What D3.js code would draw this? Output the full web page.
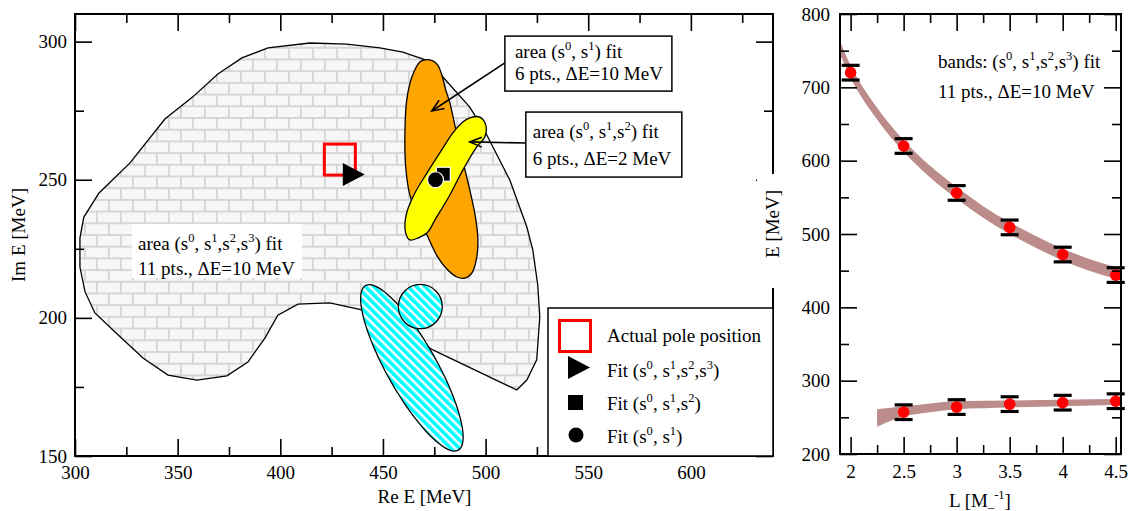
<!DOCTYPE html>
<html>
<head>
<meta charset="utf-8">
<script src="https://cdn.jsdelivr.net/npm/d3@7"></script>
<style>
  body { margin: 0; background: #fff; }
  svg { display: block; font-family: "Liberation Serif", "Times New Roman", serif; }
</style>
</head>
<body>
<div id="chart"></div>
<script>
// ---------- left panel: pole in the complex energy plane ----------
const reTicks = [300, 350, 400, 450, 500, 550, 600];
const reMinor = [325, 375, 425, 475, 525, 575, 625];
const imTicks = [150, 200, 250, 300];
const imMinor = [175, 225, 275];

// outline of the (s0,s1,s2,s3) fit area, [Re E, Im E]
const areaFit3 = [
  [302.4, 228.9], [304.3, 236.5], [311.7, 245.2], [326.8, 256.1], [343.8, 272.0],
  [357.4, 280.0], [369.6, 288.3], [381.3, 294.1], [394.0, 297.7], [414.4, 299.5],
  [432.4, 299.1], [448.5, 297.7], [459.7, 296.2], [473.8, 292.6], [479.2, 287.2],
  [492.3, 276.3], [500.6, 266.2], [511.8, 249.9], [520.1, 232.9], [523.0, 224.6],
  [525.4, 211.9], [526.4, 200.3], [524.9, 184.8], [520.1, 177.5], [515.2, 173.9],
  [474.3, 188.4], [455.8, 197.4], [439.7, 202.9], [424.1, 205.4], [408.6, 205.0],
  [398.8, 201.0], [392.5, 192.7], [384.2, 184.0], [374.0, 179.0], [359.4, 177.5],
  [345.3, 179.3], [333.1, 185.5], [319.5, 194.9], [309.7, 201.8], [304.9, 209.4],
  [302.4, 218.4]
];
// (s0,s1) fit area (orange)
const areaFit1 = [
  [470.4, 293.4], [474.3, 293.0], [476.7, 291.5], [478.7, 287.9], [480.6, 282.5],
  [482.6, 277.8], [484.5, 271.6], [486.5, 264.4], [489.4, 255.3], [492.3, 246.3],
  [494.7, 238.0], [496.2, 229.3], [495.7, 222.0], [493.3, 216.2], [489.9, 214.4],
  [486.0, 214.8], [481.6, 217.3], [476.7, 222.0], [471.9, 229.3], [467.0, 237.2],
  [463.1, 244.5], [461.1, 254.6], [460.7, 266.9], [461.6, 278.9], [464.1, 287.2],
  [468.0, 292.6]
];
// (s0,s1,s2) fit area (yellow)
const areaFit2 = [
  [492.3, 272.4], [497.2, 272.7], [500.1, 269.8], [499.6, 265.5], [495.7, 261.9],
  [488.9, 253.5], [482.6, 244.5], [475.3, 235.4], [471.9, 231.1], [467.0, 228.9],
  [463.1, 228.2], [461.1, 230.7], [461.1, 236.5], [464.6, 243.8], [471.4, 252.4],
  [477.7, 259.7], [484.0, 266.9], [488.9, 270.9]
];
// hatched regions: elongated ellipse and small disc
const hatchEllipse = { re: 464.1, im: 181.9, major: [22.6, -29.8], minor: [-10.6, -4.45] };
const hatchDisc = { re: 468.2, im: 204.1, dRe: 10.7, dIm: 8.0 };

const polePosition = [429.0, 257.3];
const fitS3 = [435.8, 251.9];
const fitS2 = [479.4, 252.0];
const fitS1 = [475.6, 250.0];

// annotation anchors [Re E, Im E]
const boxS1 = [509.4, 302.0];
const boxS2 = [519.6, 274.5];
const boxS3 = [327.8, 234.0];
const arrowS1 = [[509.4, 292.3], [473.8, 274.9]];
const arrowS2 = [[519.6, 263.3], [492.3, 263.7]];

// ---------- right panel: levels vs. box size ----------
const lTicks = [2, 2.5, 3, 3.5, 4, 4.5];
const lMinor = [2.25, 2.75, 3.25, 3.75, 4.25];
const eTicks = [200, 300, 400, 500, 600, 700, 800];
const eMinor = [250, 350, 450, 550, 650, 750];

const levelL = [2, 2.5, 3, 3.5, 4, 4.5];
const levelUpper = [720, 620, 556, 509, 472, 444];
const levelLower = [null, 257, 264, 268, 270, 272];
const levelErr = 10;

const bandUpperL = [1.9, 2.0, 2.25, 2.5, 2.75, 3.0, 3.25, 3.5, 3.75, 4.0, 4.25, 4.5, 4.55];
const bandUpperLo = [745, 713, 656, 612, 577, 548, 522, 500, 481, 464, 450, 439, 437];
const bandUpperHi = [763, 730, 672, 628, 593, 564, 538, 516, 497, 480, 466, 455, 453];
const bandLowerL = [2.25, 2.5, 2.75, 3.0, 3.5, 4.0, 4.55];
const bandLowerLo = [237, 251, 257, 261, 263.5, 265, 267];
const bandLowerHi = [261, 265, 269, 272, 273, 274, 275];

const W = 1130, H = 511;
const svg = d3.select("#chart").append("svg").attr("width", W).attr("height", H);
svg.append("rect").attr("width", W).attr("height", H).attr("fill", "#fff");

const defs = svg.append("defs");
const brick = defs.append("pattern").attr("id", "brick")
    .attr("patternUnits", "userSpaceOnUse").attr("width", 24).attr("height", 23.4);
brick.append("rect").attr("width", 24).attr("height", 23.4).attr("fill", "#f7f7f7");
brick.append("path").attr("d", "M0,0.9H24M0,12.6H24M0.9,0V12.6M12.9,12.6V23.4")
    .attr("stroke", "#d6d6d6").attr("stroke-width", 1.9);

const stripe = defs.append("pattern").attr("id", "stripe")
    .attr("patternUnits", "userSpaceOnUse").attr("width", 6).attr("height", 6)
    .attr("patternTransform", "rotate(-45)");
stripe.append("rect").attr("width", 6).attr("height", 6).attr("fill", "#fff");
stripe.append("rect").attr("width", 3.6).attr("height", 6).attr("fill", "#00ffff");

defs.append("marker").attr("id", "openArrow")
    .attr("viewBox", "-13 -7 15 14").attr("refX", 0).attr("refY", 0)
    .attr("markerWidth", 15).attr("markerHeight", 14)
    .attr("markerUnits", "userSpaceOnUse").attr("orient", "auto")
  .append("path").attr("d", "M-12,-5L0,0L-12,5")
    .attr("fill", "none").attr("stroke", "#000").attr("stroke-width", 1.6);

// text with ^superscripts
function richText(g, px, py, str, size) {
  size = size || 19;
  const t = g.append("text").attr("x", px).attr("y", py).attr("font-size", size);
  const parts = str.split(/\^(-?\d)/);
  let raised = false;
  parts.forEach((p, i) => {
    if (p === "") return;
    if (i % 2 === 1) {
      t.append("tspan").attr("font-size", size * 0.66).attr("dy", raised ? 0 : -8).text(p);
      raised = true;
    } else {
      t.append("tspan").attr("dy", raised ? 8 : 0).text(p);
      raised = false;
    }
  });
  return t;
}

function axes(g, xs, ys, xMaj, xMin, yMaj, yMin, padX, padY) {
  const [x0, x1] = xs.range(), [y0, y1] = ys.range();
  const maj = 17, mnr = 9;
  const put = (axis, tx, ty) => g.append("g").attr("transform", `translate(${tx},${ty})`).call(axis);
  const parts = [
    put(d3.axisBottom(xs).tickValues(xMaj).tickSizeInner(-maj).tickSizeOuter(0).tickPadding(padX).tickFormat(d => d), 0, y0),
    put(d3.axisBottom(xs).tickValues(xMin).tickSizeInner(-mnr).tickSizeOuter(0).tickFormat(""), 0, y0),
    put(d3.axisTop(xs).tickValues(xMaj).tickSizeInner(-maj).tickSizeOuter(0).tickFormat(""), 0, y1),
    put(d3.axisTop(xs).tickValues(xMin).tickSizeInner(-mnr).tickSizeOuter(0).tickFormat(""), 0, y1),
    put(d3.axisLeft(ys).tickValues(yMaj).tickSizeInner(-maj).tickSizeOuter(0).tickPadding(padY).tickFormat(d => d), x0, 0),
    put(d3.axisLeft(ys).tickValues(yMin).tickSizeInner(-mnr).tickSizeOuter(0).tickFormat(""), x0, 0),
    put(d3.axisRight(ys).tickValues(yMaj).tickSizeInner(-maj).tickSizeOuter(0).tickFormat(""), x1, 0),
    put(d3.axisRight(ys).tickValues(yMin).tickSizeInner(-mnr).tickSizeOuter(0).tickFormat(""), x1, 0)
  ];
  parts.forEach(a => {
    a.attr("font-size", 19).attr("font-family", null);
    a.select(".domain").remove();
    a.selectAll(".tick line").attr("stroke", "#000").attr("stroke-width", 1.6);
    a.selectAll(".tick text").attr("fill", "#000");
  });
  g.append("rect").attr("x", x0).attr("y", y1).attr("width", x1 - x0).attr("height", y0 - y1)
    .attr("fill", "none").attr("stroke", "#000").attr("stroke-width", 2);
}

// ================= left panel =================
const x = d3.scaleLinear().domain([300, 640]).range([75, 773]);
const y = d3.scaleLinear().domain([150, 310]).range([456, 14]);
const left = svg.append("g");

const polyLin = d3.line().x(d => x(d[0])).y(d => y(d[1])).curve(d3.curveLinearClosed);
const polySmooth = d3.line().x(d => x(d[0])).y(d => y(d[1])).curve(d3.curveCatmullRomClosed);

left.append("path").attr("d", polyLin(areaFit3))
    .attr("fill", "url(#brick)").attr("stroke", "#000").attr("stroke-width", 1.3);

const ellPts = d3.range(0, 73).map(i => {
  const t = i / 72 * 2 * Math.PI;
  const e = hatchEllipse;
  return [e.re + e.major[0] * Math.cos(t) + e.minor[0] * Math.sin(t),
          e.im + e.major[1] * Math.cos(t) + e.minor[1] * Math.sin(t)];
});
left.append("path").attr("d", polySmooth(ellPts))
    .attr("fill", "url(#stripe)").attr("stroke", "#000").attr("stroke-width", 1.3);
left.append("ellipse")
    .attr("cx", x(hatchDisc.re)).attr("cy", y(hatchDisc.im))
    .attr("rx", x(hatchDisc.re + hatchDisc.dRe) - x(hatchDisc.re))
    .attr("ry", y(hatchDisc.im) - y(hatchDisc.im + hatchDisc.dIm))
    .attr("fill", "url(#stripe)").attr("stroke", "#000").attr("stroke-width", 1.3);

left.append("path").attr("d", polySmooth(areaFit1))
    .attr("fill", "#ffa500").attr("stroke", "#000").attr("stroke-width", 1.3);
left.append("path").attr("d", polySmooth(areaFit2))
    .attr("fill", "#ffff00").attr("stroke", "#000").attr("stroke-width", 1.3);

// markers
const triPath = "M-11,-11.5L11,0L-11,11.5Z";
left.append("rect")
    .attr("x", x(polePosition[0]) - 15.5).attr("y", y(polePosition[1]) - 15.5)
    .attr("width", 31).attr("height", 31)
    .attr("fill", "none").attr("stroke", "#ff0000").attr("stroke-width", 3);
left.append("path").attr("d", triPath)
    .attr("transform", `translate(${x(fitS3[0])},${y(fitS3[1])})`).attr("fill", "#000");
left.append("rect")
    .attr("x", x(fitS2[0]) - 7).attr("y", y(fitS2[1]) - 7).attr("width", 14).attr("height", 14)
    .attr("fill", "#000").attr("stroke", "#fff").attr("stroke-width", 1.2);
left.append("circle")
    .attr("cx", x(fitS1[0])).attr("cy", y(fitS1[1])).attr("r", 8)
    .attr("fill", "#000").attr("stroke", "#fff").attr("stroke-width", 1.2);

// annotation: area (s0..s3)
left.append("rect").attr("x", x(boxS3[0])).attr("y", y(boxS3[1])).attr("width", 170).attr("height", 54).attr("fill", "#fff");
richText(left, x(boxS3[0]) + 6, y(boxS3[1]) + 26, "area (s^0, s^1,s^2,s^3) fit");
richText(left, x(boxS3[0]) + 6, y(boxS3[1]) + 51, "11 pts., \u0394E=10 MeV");

// arrows + boxes
[arrowS1, arrowS2].forEach(a => {
  left.append("line")
      .attr("x1", x(a[0][0])).attr("y1", y(a[0][1]))
      .attr("x2", x(a[1][0])).attr("y2", y(a[1][1]))
      .attr("stroke", "#000").attr("stroke-width", 1.6)
      .attr("marker-end", "url(#openArrow)");
});
left.append("rect").attr("x", x(boxS1[0])).attr("y", y(boxS1[1])).attr("width", 167).attr("height", 55)
    .attr("fill", "#fff").attr("stroke", "#000").attr("stroke-width", 1.5);
richText(left, x(boxS1[0]) + 10, y(boxS1[1]) + 22, "area (s^0, s^1) fit");
richText(left, x(boxS1[0]) + 10, y(boxS1[1]) + 44, "6 pts., \u0394E=10 MeV");
left.append("rect").attr("x", x(boxS2[0])).attr("y", y(boxS2[1])).attr("width", 156).attr("height", 65)
    .attr("fill", "#fff").attr("stroke", "#000").attr("stroke-width", 1.5);
richText(left, x(boxS2[0]) + 7, y(boxS2[1]) + 26, "area (s^0, s^1,s^2) fit");
richText(left, x(boxS2[0]) + 7, y(boxS2[1]) + 53, "6 pts., \u0394E=2 MeV");

axes(left, x, y, reTicks, reMinor, imTicks, imMinor, 9.5, 8);

// legend
const lg = left.append("g").attr("transform", "translate(548,308)");
lg.append("rect").attr("width", 225).attr("height", 148)
    .attr("fill", "#fff").attr("stroke", "#000").attr("stroke-width", 1.5);
lg.append("rect").attr("x", 11.5).attr("y", 12.5).attr("width", 31).attr("height", 31)
    .attr("fill", "none").attr("stroke", "#ff0000").attr("stroke-width", 3);
richText(lg, 59, 34, "Actual pole position");
lg.append("path").attr("d", triPath).attr("transform", "translate(31,59.5)").attr("fill", "#000");
richText(lg, 59, 69, "Fit (s^0, s^1,s^2,s^3)");
lg.append("rect").attr("x", 20).attr("y", 87).attr("width", 15).attr("height", 15).attr("fill", "#000");
richText(lg, 59, 102, "Fit (s^0, s^1,s^2)");
lg.append("circle").attr("cx", 28).attr("cy", 127).attr("r", 7.5).attr("fill", "#000");
richText(lg, 59, 135, "Fit (s^0, s^1)");

left.append("text").attr("x", 424.5).attr("y", 503).attr("text-anchor", "middle")
    .attr("font-size", 19).text("Re E [MeV]");
left.append("text").attr("transform", "translate(25,235) rotate(-90)").attr("text-anchor", "middle")
    .attr("font-size", 19).text("Im E [MeV]");

// white strip where the right panel's label sits
svg.append("rect").attr("x", 757).attr("y", 174).attr("width", 44).attr("height", 114).attr("fill", "#fff");

// ================= right panel =================
const xr = d3.scaleLinear().domain([1.9, 4.55]).range([840, 1121]);
const yr = d3.scaleLinear().domain([200, 800]).range([454, 14]);
const right = svg.append("g");

const band = d3.area().x(d => xr(d[0])).y0(d => yr(d[1])).y1(d => yr(d[2])).curve(d3.curveMonotoneX);
right.append("path").attr("d", band(bandUpperL.map((l, i) => [l, bandUpperLo[i], bandUpperHi[i]])))
    .attr("fill", "#bb8c89");
right.append("path").attr("d", band(bandLowerL.map((l, i) => [l, bandLowerLo[i], bandLowerHi[i]])))
    .attr("fill", "#bb8c89");

const pts = [];
levelL.forEach((l, i) => {
  pts.push([l, levelUpper[i]]);
  if (levelLower[i] != null) pts.push([l, levelLower[i]]);
});
const eb = right.selectAll("g.eb").data(pts).join("g").attr("class", "eb");
eb.append("line")
    .attr("x1", d => xr(d[0])).attr("x2", d => xr(d[0]))
    .attr("y1", d => yr(d[1] - levelErr)).attr("y2", d => yr(d[1] + levelErr))
    .attr("stroke", "#000").attr("stroke-width", 1.6);
[-1, 1].forEach(s => {
  eb.append("line")
      .attr("x1", d => xr(d[0]) - 9).attr("x2", d => xr(d[0]) + 9)
      .attr("y1", d => yr(d[1] + s * levelErr)).attr("y2", d => yr(d[1] + s * levelErr))
      .attr("stroke", "#000").attr("stroke-width", 3.2);
});
eb.append("circle").attr("cx", d => xr(d[0])).attr("cy", d => yr(d[1])).attr("r", 5.8).attr("fill", "#ff0000");

axes(right, xr, yr, lTicks, lMinor, eTicks, eMinor, 10.5, 10);

richText(right, 938, 68, "bands: (s^0, s^1,s^2,s^3) fit");
richText(right, 938, 98, "11 pts., \u0394E=10 MeV");

right.append("text").attr("transform", "translate(779,224) rotate(-90)").attr("text-anchor", "middle")
    .attr("font-size", 19).text("E [MeV]");
const lt = right.append("text").attr("x", 949).attr("y", 507).attr("font-size", 19);
lt.append("tspan").text("L [M");
lt.append("tspan").attr("font-size", 12.5).text("_");
lt.append("tspan").attr("font-size", 12.5).attr("dy", -8).text("-1");
lt.append("tspan").attr("dy", 8).text("]");
</script>
</body>
</html>
